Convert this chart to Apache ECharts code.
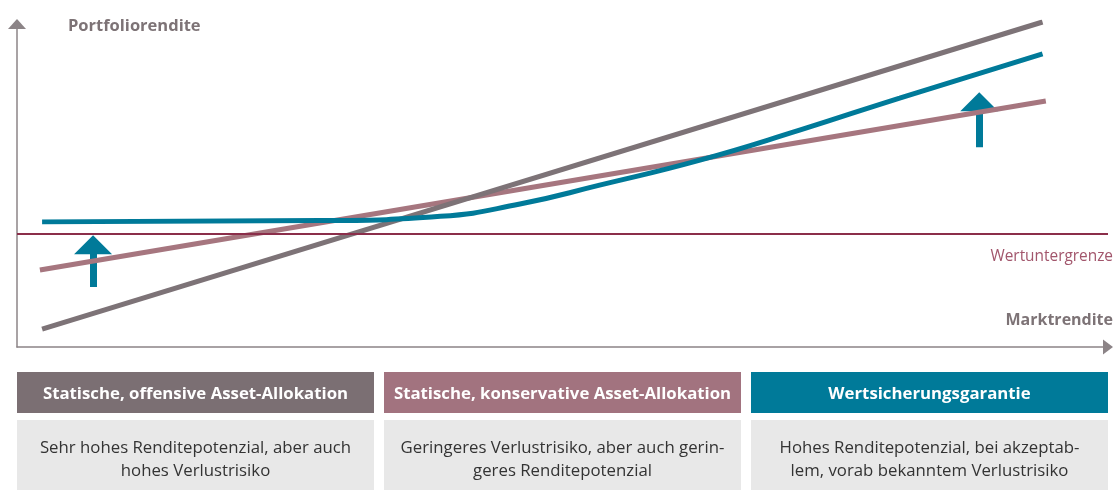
<!DOCTYPE html>
<html>
<head>
<meta charset="utf-8">
<script src="https://cdn.jsdelivr.net/npm/echarts@6/dist/echarts.min.js"></script>
<style>
  html, body { margin: 0; padding: 0; background: #fff; }
  #chart { width: 1116px; height: 490px; }
</style>
</head>
<body>
<div id="chart"></div>
<script>
// lines, x = Marktrendite (0..100), y = Portfoliorendite (0..100)
let offensive = [[2.3, 5.5], [94.0, 100.0]];
let konservativ = [[2.1, 23.7], [94.3, 75.7]];
let garantie = [[2.3, 38.5], [27.8, 38.9], [38.8, 40.2], [46.1, 44.0], [53.4, 49.8],
    [62.6, 57.5], [71.8, 66.8], [80.9, 76.6], [94.0, 90.2]];
let untergrenze = 34.8;
// up arrows: [x, shaft start, head centre]
let pfeile = [[6.97, 18.5, 31.5], [88.2, 61.5, 75.5]];

let headers = ['Statische, offensive Asset-Allokation', 'Statische, konservative Asset-Allokation', 'Wertsicherungsgarantie'];
let texte = ['Sehr hohes Renditepotenzial, aber auch\nhohes Verlustrisiko',
    'Geringeres Verlustrisiko, aber auch gerin-\ngeres Renditepotenzial',
    'Hohes Renditepotenzial, bei akzeptab-\nlem, vorab bekanntem Verlustrisiko'];
let farben = ['#7b6f73', '#a2737f', '#007a99'];

let font = 'Open Sans';
let axisColor = '#8c8487';
let teal = '#007a99';

let graphic = [];
let boxX = [17, 384, 751];
for (let i = 0; i < headers.length; i++) {
    graphic.push({
        type: 'rect', left: boxX[i], top: 372,
        shape: { width: 357, height: 41 },
        style: { fill: farben[i] }
    });
    graphic.push({
        type: 'text', x: boxX[i] + 178.5, y: 394,
        style: { text: headers[i], fill: '#fff', font: 'bold 16.8px "' + font + '"', align: 'center', verticalAlign: 'middle' }
    });
    graphic.push({
        type: 'rect', left: boxX[i], top: 420,
        shape: { width: 357, height: 70 },
        style: { fill: '#e8e8e8' }
    });
    graphic.push({
        type: 'text', x: boxX[i] + 178.5, y: 460,
        style: { text: texte[i], fill: '#333', font: '16.8px "' + font + '"', align: 'center', verticalAlign: 'middle', lineHeight: 23 }
    });
}

let option = {
    animation: false,
    textStyle: { fontFamily: font },
    title: [
        { text: 'Portfoliorendite', left: 68, top: 18,
          textStyle: { fontSize: 16.5, fontWeight: 'bold', color: '#7d7376', fontFamily: font }, padding: 0 },
        { text: 'Marktrendite', right: 3, top: 312,
          textStyle: { fontSize: 16, fontWeight: 'bold', color: '#7d7376', fontFamily: font }, padding: 0 }
    ],
    grid: { left: 17, right: 8, top: 22, bottom: 143 },
    xAxis: {
        type: 'value', min: 0, max: 100,
        axisLine: { lineStyle: { color: axisColor, width: 1.5 }, symbol: ['none', 'triangle'], symbolSize: [15, 10] },
        axisTick: { show: false }, axisLabel: { show: false }, splitLine: { show: false }
    },
    yAxis: {
        type: 'value', min: 0, max: 100,
        axisLine: { show: true, lineStyle: { color: axisColor, width: 1.5 }, symbol: ['none', 'triangle'], symbolSize: [18, 10], symbolOffset: [0, -2] },
        axisTick: { show: false }, axisLabel: { show: false }, splitLine: { show: false }
    },
    series: [
        {
            type: 'line', data: [[0, untergrenze], [100, untergrenze]], symbol: 'none',
            lineStyle: { color: '#8b2e4a', width: 2 },
            markLine: {
                silent: true, symbol: 'none',
                lineStyle: { color: '#8b2e4a', width: 2, type: 'solid' },
                label: { position: 'insideEndBottom', formatter: 'Wertuntergrenze', color: '#a2566c', fontSize: 15.4, fontFamily: font, distance: [-5, 15] },
                data: [{ yAxis: untergrenze }]
            }
        },
        { type: 'line', data: konservativ, symbol: 'none', lineStyle: { color: '#a6767f', width: 5, cap: 'butt' } },
        { type: 'line', data: offensive, symbol: 'none', lineStyle: { color: '#7d7377', width: 5, cap: 'butt' } },
        { type: 'line', data: garantie, symbol: 'none', smooth: 0.5, lineStyle: { color: teal, width: 5, cap: 'butt' } },
        // arrow shafts
        {
            type: 'lines', coordinateSystem: 'cartesian2d', silent: true, symbol: 'none',
            lineStyle: { color: teal, width: 7, opacity: 1 },
            data: pfeile.map(function (p) { return { coords: [[p[0], p[1]], [p[0], p[2]]] }; })
        },
        // arrow heads
        {
            type: 'scatter', silent: true, symbol: 'triangle', symbolSize: [38, 19],
            itemStyle: { color: teal, opacity: 1 },
            data: pfeile.map(function (p) { return [p[0], p[2]]; })
        }
    ],
    graphic: graphic
};

let mychart = echarts.init(document.getElementById('chart'));
mychart.setOption(option);
</script>
</body>
</html>
